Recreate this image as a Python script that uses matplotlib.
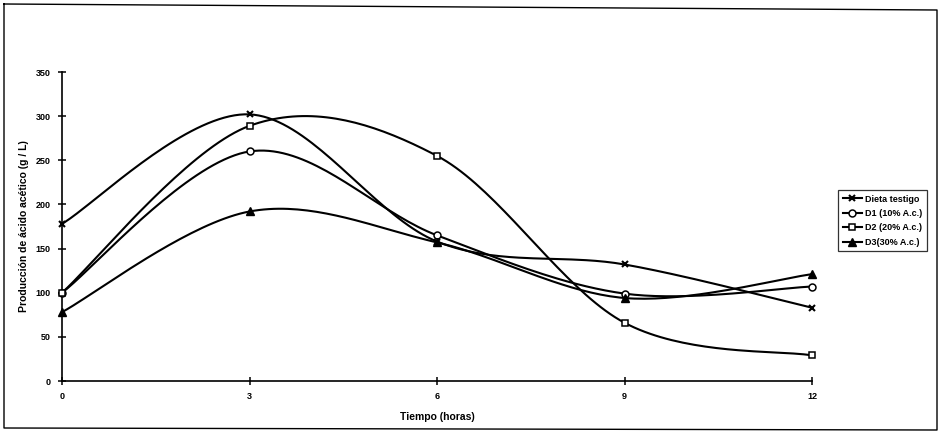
import numpy as np
import matplotlib
matplotlib.use("Agg")
import matplotlib.pyplot as plt
from matplotlib.lines import Line2D

plt.rcParams['font.family'] = ['Liberation Sans', 'DejaVu Sans']

# Production of acetic acid (g/L) over time (hours)
horas = [0, 3, 6, 9, 12]
dieta_testigo = [178, 302, 158, 132, 83]
d1 = [100, 260, 165, 99, 107]
d2 = [100, 289, 255, 66, 29]
d3 = [78, 192, 157, 94, 121]

series_names = ["Dieta testigo", "D1 (10% A.c.)", "D2 (20% A.c.)", "D3(30% A.c.)"]
y_ticks = [0, 50, 100, 150, 200, 250, 300, 350]
x_ticks = [0, 3, 6, 9, 12]


def smooth(x, y, n=40):
    """Bezier smoothing through every point (spreadsheet-style smoothed line)."""
    x = np.asarray(x, float)
    y = np.asarray(y, float)
    P = np.column_stack([x, y])
    Pext = np.vstack([P[0], P, P[-1]])
    out = []
    for i in range(len(P) - 1):
        p0, p1, p2, p3 = Pext[i], Pext[i + 1], Pext[i + 2], Pext[i + 3]
        c1 = p1 + (p2 - p0) / 6.0
        c2 = p2 - (p3 - p1) / 6.0
        t = np.linspace(0, 1, n)[:, None]
        seg = ((1 - t) ** 3) * p1 + 3 * ((1 - t) ** 2) * t * c1 + 3 * (1 - t) * t ** 2 * c2 + t ** 3 * p2
        out.append(seg if i == 0 else seg[1:])
    seg = np.vstack(out)
    return seg[:, 0], seg[:, 1]


W, H = 941, 436
fig = plt.figure(figsize=(W / 100, H / 100), dpi=100)
ax = fig.add_axes([62 / W, 1 - 381 / H, (812 - 62) / W, (381 - 72) / H])

styles = [
    dict(marker='x', mfc='black', mec='black', ms=5, mew=1.5),
    dict(marker='o', mfc='white', mec='black', ms=5, mew=1.1),
    dict(marker='s', mfc='white', mec='black', ms=5, mew=1.1),
    dict(marker='^', mfc='black', mec='black', ms=5.5, mew=1.0),
]
data = [dieta_testigo, d1, d2, d3]

handles = []
for vals, st, name in zip(data, styles, series_names):
    sx, sy = smooth(horas, vals)
    ax.plot(sx, sy, color='black', lw=1.5, solid_capstyle='round', zorder=2)
    ax.plot(horas, vals, linestyle='none', zorder=3, clip_on=False, **st)
    handles.append(Line2D([0], [0], color='black', lw=1.5, **st))

ax.set_xlim(0, 12)
ax.set_ylim(0, 350)
ax.set_xticks(x_ticks)
ax.set_yticks(y_ticks)
ax.set_xticklabels([str(v) for v in x_ticks])
ax.set_yticklabels([str(v) for v in y_ticks])
for s in ['top', 'right']:
    ax.spines[s].set_visible(False)
for s in ['left', 'bottom']:
    ax.spines[s].set_linewidth(1.2)
ax.tick_params(axis='both', direction='inout', length=6, width=1.1, labelsize=6.5, pad=5)
for lab in ax.get_xticklabels() + ax.get_yticklabels():
    lab.set_fontweight('bold')

ax.set_xlabel("Tiempo (horas)", fontsize=7.5, fontweight='bold', labelpad=8)
ax.set_ylabel("Producción de ácido acético (g / L)", fontsize=7.5, fontweight='bold', labelpad=5)

leg = fig.legend(handles, series_names, loc='upper left',
                 bbox_to_anchor=(838 / W, 1 - 190 / H), frameon=True, fancybox=False,
                 edgecolor='black', prop=dict(size=6.5, weight='bold'),
                 handlelength=2.2, handletextpad=0.3, borderpad=0.5, labelspacing=0.6,
                 borderaxespad=0)
leg.get_frame().set_linewidth(0.9)

# outer chart border
bx = [4, 937, 937, 4, 4]
by = [4, 10, 430, 428, 4]
fig.add_artist(Line2D([v / W for v in bx], [1 - v / H for v in by],
                      color='black', lw=1.0, transform=fig.transFigure))

fig.savefig("out.png", dpi=100, facecolor='white')
